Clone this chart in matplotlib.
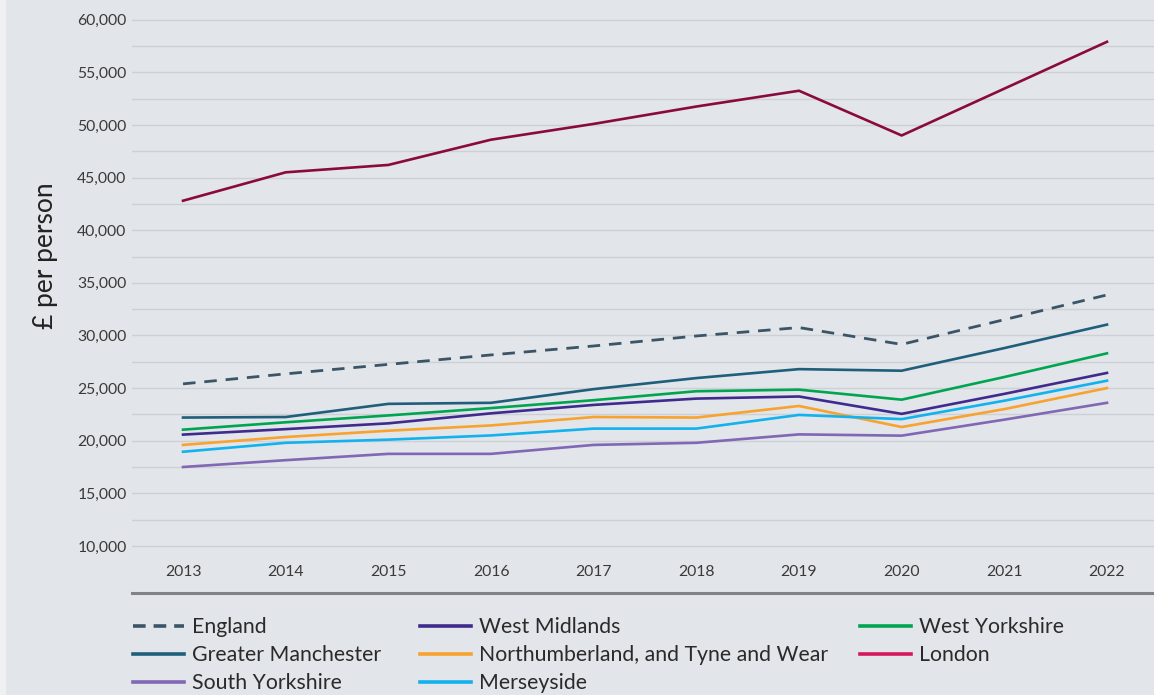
import matplotlib
matplotlib.use("Agg")
import matplotlib.pyplot as plt
from matplotlib.lines import Line2D
from matplotlib.ticker import FuncFormatter, FixedLocator

years = [2013, 2014, 2015, 2016, 2017, 2018, 2019, 2020, 2021, 2022]
england = [25400, 26350, 27250, 28150, 29000, 29950, 30750, 29150, 31500, 33850]
greater_manchester = [22200, 22250, 23500, 23600, 24900, 25950, 26800, 26650, 28800, 31030]
south_yorkshire = [17500, 18150, 18750, 18750, 19600, 19800, 20600, 20480, 22000, 23600]
west_midlands = [20580, 21100, 21650, 22600, 23400, 24000, 24200, 22550, 24450, 26440]
northumberland = [19600, 20350, 20950, 21450, 22250, 22200, 23300, 21300, 23000, 25000]
merseyside = [18950, 19800, 20100, 20500, 21150, 21150, 22450, 22050, 23800, 25700]
west_yorkshire = [21050, 21750, 22400, 23100, 23850, 24700, 24850, 23900, 26050, 28300]
london = [42800, 45500, 46200, 48600, 50100, 51750, 53250, 49000, 53450, 57900]

y_ticks = [10000, 15000, 20000, 25000, 30000, 35000, 40000, 45000, 50000, 55000, 60000]
y_minor = [12500, 17500, 22500, 27500, 32500, 37500, 42500, 47500, 52500, 57500]

labels = ["England", "Greater Manchester", "South Yorkshire", "West Midlands",
          "Northumberland, and Tyne and Wear", "Merseyside", "West Yorkshire", "London"]
series = [england, greater_manchester, south_yorkshire, west_midlands,
          northumberland, merseyside, west_yorkshire, london]
line_colors = ["#3b5567", "#1f5f7b", "#8167b4", "#3f2b8e", "#f8a22f", "#12b2ee", "#00a551", "#8a0a3f"]
legend_colors = ["#3b5567", "#1f5f7b", "#8167b4", "#3f2b8e", "#f8a22f", "#12b2ee", "#00a551", "#d5175f"]

bg = "#e2e5e9"
plt.rcParams['font.family'] = ['Lato', 'DejaVu Sans']

fig = plt.figure(figsize=(11.54, 6.95), dpi=100, facecolor=bg)
ax = fig.add_axes([132/1154, 1-593/695, 1-132/1154, (593-14.7)/695])
ax.set_facecolor(bg)

for lab, vals, col in zip(labels, series, line_colors):
    if lab == "England":
        ax.plot(years, vals, color=col, lw=2.0, dashes=(4.5, 3.2), solid_capstyle='butt')
    else:
        ax.plot(years, vals, color=col, lw=1.9)

ax.set_xlim(2012.503, 2022.458)
ax.set_ylim(5530, 60475)
ax.set_xticks(years)
ax.set_yticks(y_ticks)
ax.yaxis.set_minor_locator(FixedLocator(y_minor))
ax.yaxis.set_major_formatter(FuncFormatter(lambda v, p: f"{int(v):,}"))
ax.grid(True, axis='y', which='both', color='#cdd1d6', lw=1.0)
ax.set_axisbelow(True)
ax.tick_params(axis='both', which='both', length=0, labelsize=11.3, colors='#3a3a3a')
ax.tick_params(axis='y', pad=4)
ax.tick_params(axis='x', pad=-20.5)
for s in ['top', 'right', 'left']:
    ax.spines[s].set_visible(False)
ax.spines['bottom'].set_color('#808285')
ax.spines['bottom'].set_linewidth(2.2)

fig.text(46/1154, 1-256/695, "£ per person", rotation=90, fontsize=19, color='#222222',
         ha='center', va='center')

fig.patches.append(plt.Rectangle((0, 0), 5/1154, 1, transform=fig.transFigure,
                                 color='#eef0f2', zorder=0))

handles = []
for lab, col in zip(labels, legend_colors):
    if lab == "England":
        handles.append(Line2D([], [], color=col, lw=2.6, dashes=(3.5, 2.2)))
    else:
        handles.append(Line2D([], [], color=col, lw=2.6))

cols_x = [129, 416, 856]
groups = [(0, 3), (3, 6), (6, 8)]
for x, (a, b) in zip(cols_x, groups):
    fig.legend(handles[a:b], labels[a:b], loc='upper left',
               bbox_to_anchor=(x/1154, 1-613/695), frameon=False,
               fontsize=15.3, handlelength=2.4, handletextpad=0.36,
               labelspacing=0.38, borderaxespad=0, borderpad=0.2,
               labelcolor='#2a2a2a')

fig.savefig("out.png", dpi=100, facecolor=bg)
